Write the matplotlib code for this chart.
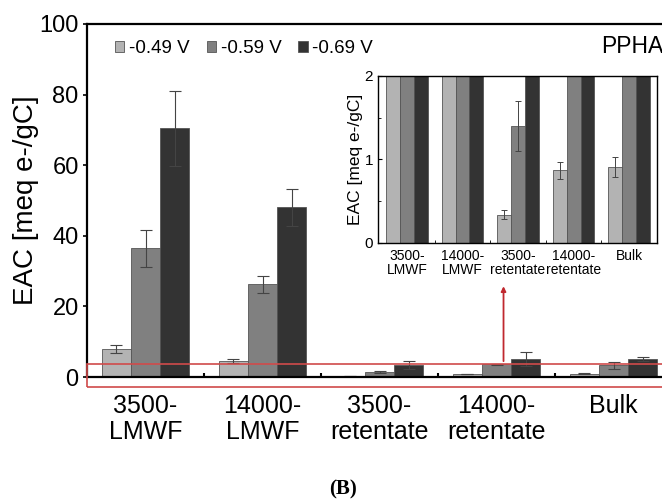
import numpy as np
import matplotlib.pyplot as plt
from matplotlib.patches import Rectangle

plt.rcParams['font.family'] = ['Liberation Sans', 'DejaVu Sans']

groups = ["3500-\nLMWF", "14000-\nLMWF", "3500-\nretentate", "14000-\nretentate", "Bulk"]
series = ["-0.49 V", "-0.59 V", "-0.69 V"]
colors = ["#b3b3b3", "#808080", "#333333"]

# EAC values [meq e-/gC] and errors, one list per potential
eac_049 = [8.0, 4.6, 0.34, 0.87, 0.91]
eac_059 = [36.5, 26.3, 1.40, 3.6, 3.3]
eac_069 = [70.5, 48.1, 3.4, 5.1, 5.1]
err_049 = [1.2, 0.5, 0.05, 0.10, 0.12]
err_059 = [5.2, 2.4, 0.30, 0.10, 0.9]
err_069 = [10.6, 5.2, 1.1, 1.9, 0.7]

values = [eac_049, eac_059, eac_069]
errors = [err_049, err_059, err_069]

x = np.arange(len(groups))
w = 0.25

fig = plt.figure(figsize=(6.62, 5.03), dpi=100)

# main axes
ax = fig.add_axes([87 / 662, 126 / 503, 585 / 662, 353 / 503])
for i in range(3):
    ax.bar(x + (i - 1) * w, values[i], w, color=colors[i], edgecolor="#555555",
           linewidth=0.6, label=series[i],
           yerr=errors[i], capsize=4, error_kw=dict(ecolor="#444444", elinewidth=0.8, capthick=0.8))
ax.set_xlim(-0.5, 4.5)
ax.set_ylim(0, 100)
ax.set_yticks([0, 20, 40, 60, 80, 100])
ax.set_xticks(x)
ax.set_xticklabels(groups, fontsize=18, linespacing=1.1)
ax.set_xticks(x[:-1] + 0.5, minor=True)
ax.tick_params(axis="x", which="major", length=0, pad=12)
ax.tick_params(axis="x", which="minor", length=3, direction="in", width=1.5)
ax.tick_params(axis="y", labelsize=17, length=3, width=1.2, pad=3)
ax.set_ylabel("EAC [meq e-/gC]", fontsize=20, labelpad=0)
for s in ["top", "left", "bottom"]:
    ax.spines[s].set_linewidth(1.6)
ax.spines["right"].set_visible(False)

leg = ax.legend(loc="upper left", bbox_to_anchor=(0.035, 0.975), ncol=3, frameon=False,
                fontsize=13.5, handlelength=0.5, handleheight=0.5, handletextpad=0.25,
                columnspacing=0.9, borderaxespad=0)
ax.text(0.985, 0.935, "PPHA", transform=ax.transAxes, ha="right", va="center", fontsize=16.5)

# red zoom box and arrow
ax.add_patch(Rectangle((-0.5, -2.8), 5.2, 6.5, fill=False, edgecolor="#d04a4a",
                       linewidth=1.2, clip_on=False, zorder=5))
ax.annotate("", xy=(3.06, 26.5), xytext=(3.06, 3.7),
            arrowprops=dict(arrowstyle="-|>", color="#c0282f", lw=1.3, mutation_scale=7),
            annotation_clip=False, zorder=5)

# inset axes
ins = fig.add_axes([378 / 662, 260 / 503, 279 / 662, 167 / 503])
for i in range(3):
    ins.bar(x + (i - 1) * w, values[i], w, color=colors[i], edgecolor="#555555",
            linewidth=0.6, yerr=errors[i], capsize=2.5,
            error_kw=dict(ecolor="#444444", elinewidth=0.7, capthick=0.7))
ins.set_xlim(-0.52, 4.5)
ins.set_ylim(0, 2)
ins.set_yticks([0, 1, 2])
ins.set_yticks([0.5, 1.5], minor=True)
ins.set_xticks(x)
ins.set_xticklabels(groups, fontsize=10, linespacing=1.0)
ins.set_xticks(x[:-1] + 0.5, minor=True)
ins.tick_params(axis="x", which="major", length=0, pad=4)
ins.tick_params(axis="x", which="minor", length=2, direction="in")
ins.tick_params(axis="y", which="major", labelsize=11, length=3, direction="in")
ins.tick_params(axis="y", which="minor", length=2, direction="in")
ins.set_ylabel("EAC [meq e-/gC]", fontsize=12.5, labelpad=1)
for s in ins.spines.values():
    s.set_linewidth(1.0)

fig.text(343 / 662, 1 - 489 / 503, "(B)", ha="center", va="center", fontsize=15,
         fontweight="bold", family=["Liberation Serif", "DejaVu Serif"])

fig.savefig("out.png", dpi=100)
